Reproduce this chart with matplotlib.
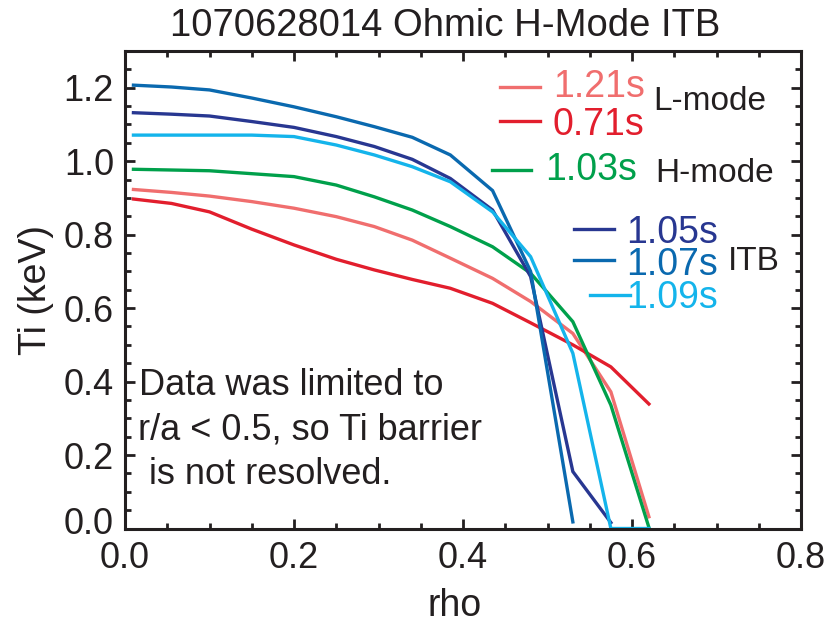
import matplotlib
matplotlib.use("Agg")
import matplotlib.pyplot as plt
from matplotlib.ticker import MultipleLocator
from matplotlib.transforms import ScaledTranslation

plt.rcParams['font.family'] = ['Liberation Sans', 'DejaVu Sans']

# ---- data ----
rho = [0.01, 0.055, 0.10, 0.15, 0.20, 0.25, 0.295, 0.34, 0.385, 0.435, 0.48, 0.53, 0.575, 0.62]

ti_121 = [0.923, 0.915, 0.905, 0.890, 0.872, 0.849, 0.822, 0.785, 0.736, 0.681, 0.618, 0.531, 0.372, 0.032]
ti_071 = [0.897, 0.885, 0.862, 0.815, 0.772, 0.733, 0.704, 0.678, 0.654, 0.613, 0.560, 0.500, 0.440, 0.339]
ti_103 = [0.978, 0.976, 0.974, 0.966, 0.958, 0.935, 0.903, 0.867, 0.822, 0.767, 0.695, 0.563, 0.336, 0.003]
ti_105 = [1.132, 1.128, 1.123, 1.108, 1.092, 1.067, 1.040, 1.005, 0.953, 0.867, 0.686, 0.155, 0.016]
ti_107 = [1.207, 1.202, 1.194, 1.172, 1.148, 1.121, 1.094, 1.065, 1.017, 0.920, 0.700, 0.018]
ti_109 = [1.071, 1.071, 1.071, 1.071, 1.067, 1.044, 1.017, 0.985, 0.944, 0.862, 0.740, 0.477, 0.0, 0.0]

times = ["1.21s", "0.71s", "1.03s", "1.05s", "1.07s", "1.09s"]
series = [ti_121, ti_071, ti_103, ti_105, ti_107, ti_109]
colors = ["#F06E6E", "#E21E2D", "#00A04B", "#283791", "#0A69AF", "#14B4EB"]

xticks = [0.0, 0.2, 0.4, 0.6, 0.8]
xticklabels = ["0.0", "0.2", "0.4", "0.6", "0.8"]
yticks = [0.0, 0.2, 0.4, 0.6, 0.8, 1.0, 1.2]
yticklabels = ["0.0", "0.2", "0.4", "0.6", "0.8", "1.0", "1.2"]

# legend-like annotations: (line x0, line x1, line y, text right x, text baseline y)
legend_pos = [
    (0.444, 0.491, 1.203, 0.615, 1.176),
    (0.444, 0.491, 1.110, 0.615, 1.071),
    (0.434, 0.481, 0.976, 0.606, 0.949),
    (0.531, 0.579, 0.815, 0.702, 0.777),
    (0.531, 0.579, 0.731, 0.702, 0.690),
    (0.550, 0.598, 0.636, 0.702, 0.600),
]
group_labels = [("L-mode", 0.625, 1.140), ("H-mode", 0.627, 0.944), ("ITB", 0.713, 0.704)]

note_lines = ["Data was limited to", "r/a < 0.5, so Ti barrier", " is not resolved."]

title = "1070628014 Ohmic H-Mode ITB"

# ---- figure ----
fig = plt.figure(figsize=(8.27, 6.23), dpi=100)
ax = fig.add_axes([125/827, 1-528.5/623, (801-125)/827, (528.5-51)/623])

for y, c in zip(series, colors):
    ax.plot(rho[:len(y)], y, color=c, lw=2.4, solid_joinstyle='miter')

ax.set_xlim(0, 0.8)
ax.set_ylim(0, 1.3)
ax.set_xticks(xticks)
ax.set_xticklabels(xticklabels)
ax.set_yticks(yticks)
ax.set_yticklabels(yticklabels)
ax.xaxis.set_minor_locator(MultipleLocator(0.05))
ax.yaxis.set_minor_locator(MultipleLocator(0.05))
ax.tick_params(which='both', direction='in', top=True, right=True, width=2.0, color='#231F20')
ax.tick_params(which='major', length=7.5)
ax.tick_params(which='minor', length=4)
ax.tick_params(axis='x', which='major', labelsize=26, pad=9, labelcolor='#231F20')
ax.tick_params(axis='y', which='major', labelsize=26, pad=8, labelcolor='#231F20')
for s in ax.spines.values():
    s.set_linewidth(2.2)
    s.set_color('#231F20')

# raise the 0.0 y label a bit as in the reference
lab0 = ax.get_yticklabels()[0]
lab0.set_transform(lab0.get_transform() + ScaledTranslation(0, 6/72, fig.dpi_scale_trans))

for (x0, x1, ly, tx, ty), t, c in zip(legend_pos, times, colors):
    ax.plot([x0, x1], [ly, ly], color=c, lw=2.4)
    ax.text(tx, ty, t, color=c, fontsize=27, ha='right', va='baseline')
for t, x, y in group_labels:
    ax.text(x, y, t, color='#231F20', fontsize=24, ha='left', va='baseline')

note_x = [139, 138, 139]
note_base = [395, 439, 484]
for t, px, py in zip(note_lines, note_x, note_base):
    fig.text(px/827, 1-py/623, t, fontsize=26, color='#231F20', ha='left', va='baseline')

fig.text(445/827, 1-36/623, title, fontsize=27.5, color='#231F20', ha='center', va='baseline')
fig.text(455/827, 1-616/623, "rho", fontsize=27, color='#231F20', ha='center', va='baseline')
fig.text(36/827, 1-290/623, "Ti (keV)", fontsize=27, color='#231F20', ha='center', va='center', rotation=90)

fig.savefig("out.png", dpi=100)
